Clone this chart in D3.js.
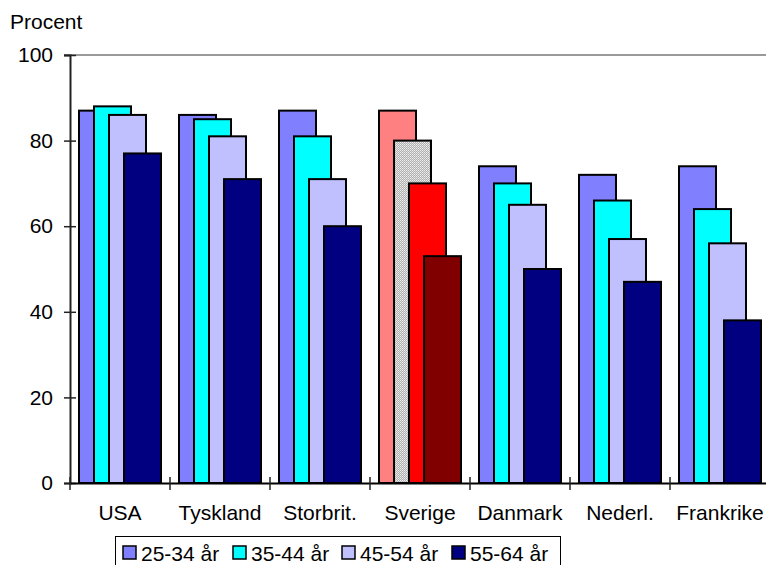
<!DOCTYPE html>
<html>
<head>
<meta charset="utf-8">
<script src="https://cdn.jsdelivr.net/npm/d3@7"></script>
<style>
  html, body { margin: 0; padding: 0; background: #fff; }
  svg { display: block; font-family: Arial, "Liberation Sans", sans-serif; }
</style>
</head>
<body>
<svg id="chart" width="766" height="565"></svg>
<script>
// Share of population employed, by age group and country
const countries = ["USA", "Tyskland", "Storbrit.", "Sverige", "Danmark", "Nederl.", "Frankrike"];
const ageGroups = ["25-34 år", "35-44 år", "45-54 år", "55-64 år"];
const age25_34 = [87, 86, 87, 87, 74, 72, 74];
const age35_44 = [88, 85, 81, 80, 70, 66, 64];
const age45_54 = [86, 81, 71, 70, 65, 57, 56];
const age55_64 = [77, 71, 60, 53, 50, 47, 38];
const yTicks = [0, 20, 40, 60, 80, 100];

const series = [age25_34, age35_44, age45_54, age55_64];
const baseColors = ["#8080ff", "#00ffff", "#c0c0ff", "#000080"];
const swedenColors = ["#ff8080", "url(#dots)", "#ff0000", "#800000"];
const fontSize = 21;
const fontFamily = "Arial, 'Liberation Sans', sans-serif";

const svg = d3.select("#chart");

// dotted grey fill used for Sweden's second bar
const pat = svg.append("defs").append("pattern")
  .attr("id", "dots").attr("width", 2).attr("height", 2)
  .attr("patternUnits", "userSpaceOnUse");
pat.append("rect").attr("width", 2).attr("height", 2).attr("fill", "#b0b0b0");
pat.append("rect").attr("width", 1).attr("height", 1).attr("fill", "#f0f0f0");
pat.append("rect").attr("x", 1).attr("y", 1).attr("width", 1).attr("height", 1).attr("fill", "#dcdcdc");

const x = d3.scaleBand().domain(countries).range([70, 770]).padding(0);
const y = d3.scaleLinear().domain([0, 100]).range([483, 55]);
const barOffset = d3.scaleLinear().domain([0, 3]).range([9, 54]);
const barWidth = 37;

// top frame line at 100
svg.append("line")
  .attr("x1", 64).attr("x2", 766)
  .attr("y1", y(100)).attr("y2", y(100))
  .attr("stroke", "#9a9a9a").attr("stroke-width", 2);

// bars
const groups = svg.append("g").selectAll("g")
  .data(countries)
  .join("g")
  .attr("transform", d => `translate(${x(d)},0)`);

groups.each(function(c, ci) {
  const g = d3.select(this);
  series.forEach((vals, si) => {
    g.append("rect")
      .attr("x", barOffset(si))
      .attr("y", y(vals[ci]))
      .attr("width", barWidth)
      .attr("height", y(0) - y(vals[ci]))
      .attr("fill", c === "Sverige" ? swedenColors[si] : baseColors[si])
      .attr("stroke", "#000")
      .attr("stroke-width", 2);
  });
});

// y axis
const yAxis = svg.append("g")
  .attr("transform", "translate(70,0)")
  .call(d3.axisLeft(y).tickValues(yTicks).tickSize(6).tickPadding(11).tickFormat(d3.format("d")));
yAxis.select(".domain").attr("stroke", "#222").attr("stroke-width", 2);
yAxis.selectAll(".tick line").attr("stroke", "#222").attr("stroke-width", 1.5).attr("x2", -6).attr("x1", 6);
yAxis.selectAll(".tick text").attr("font-size", fontSize).attr("fill", "#000").attr("font-family", fontFamily);

// x axis along zero
const xAxis = svg.append("g")
  .attr("transform", `translate(0,${y(0)})`)
  .call(d3.axisBottom(x).tickSize(0).tickPadding(22));
xAxis.select(".domain").attr("stroke", "#000").attr("stroke-width", 2);
xAxis.selectAll(".tick text").attr("font-size", fontSize).attr("fill", "#000").attr("font-family", fontFamily);

// category separator ticks crossing the baseline
svg.append("g").selectAll("line")
  .data(countries.map(c => x(c)).concat([x(countries[countries.length - 1]) + x.bandwidth()]))
  .join("line")
  .attr("x1", d => d).attr("x2", d => d)
  .attr("y1", y(0) - 6).attr("y2", y(0) + 7)
  .attr("stroke", "#222").attr("stroke-width", 1.5);

// axis title
svg.append("text").attr("x", 10).attr("y", 29)
  .attr("font-size", fontSize).text("Procent");

// legend
const legend = svg.append("g");
legend.append("rect")
  .attr("x", 115.5).attr("y", 536.5).attr("width", 445).attr("height", 40)
  .attr("fill", "#fff").attr("stroke", "#000").attr("stroke-width", 1);
const legendX = [123, 233, 342, 452];
ageGroups.forEach((label, i) => {
  legend.append("rect")
    .attr("x", legendX[i]).attr("y", 546).attr("width", 13).attr("height", 13)
    .attr("fill", baseColors[i]).attr("stroke", "#000").attr("stroke-width", 1.5);
  legend.append("text")
    .attr("x", legendX[i] + 18).attr("y", 561)
    .attr("font-size", fontSize).text(label);
});
</script>
</body>
</html>
